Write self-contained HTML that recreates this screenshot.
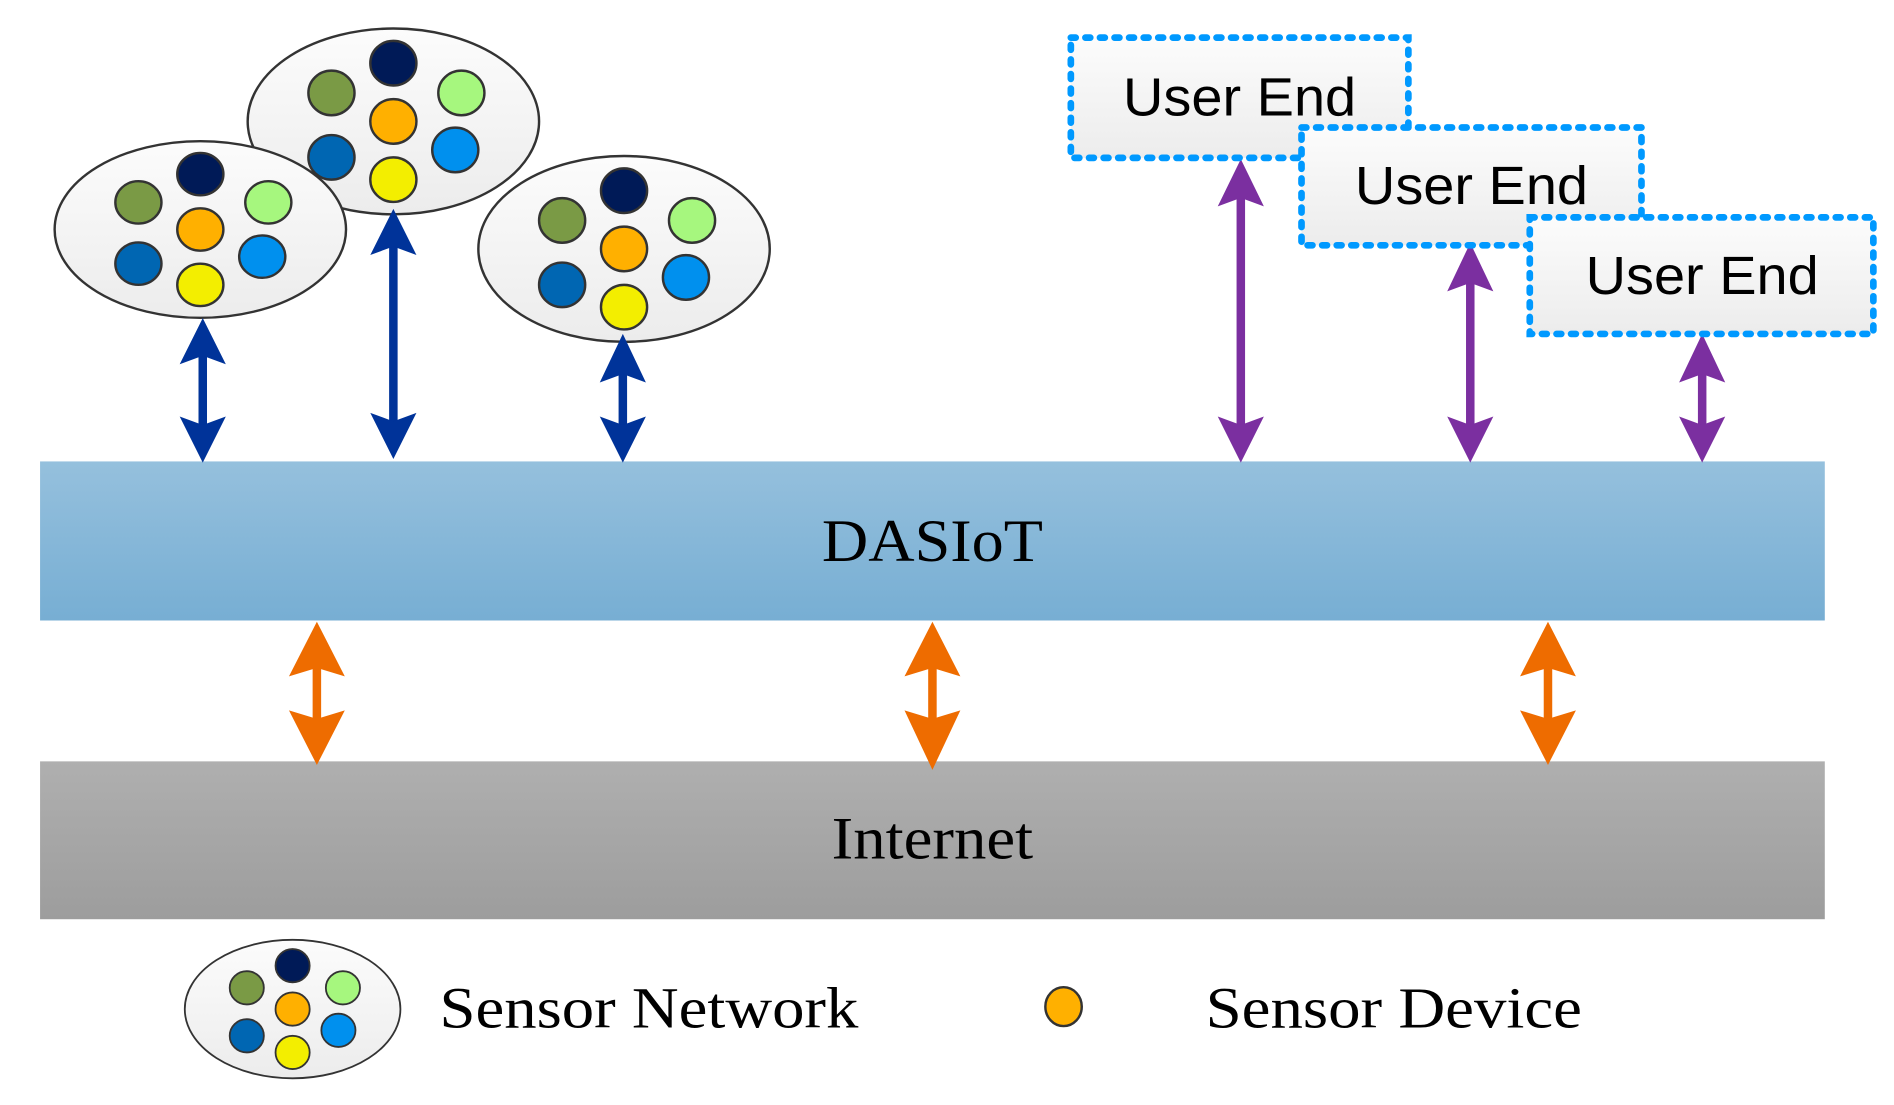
<!DOCTYPE html>
<html><head><meta charset="utf-8"><style>html,body{margin:0;padding:0;background:#fff}svg{display:block}</style></head>
<body>
<svg width="1894" height="1105" viewBox="0 0 1560 910" preserveAspectRatio="none" xmlns="http://www.w3.org/2000/svg">
<defs>
<linearGradient id="gb" x1="0" y1="0" x2="0" y2="1"><stop offset="0" stop-color="#95c0dd"/><stop offset="1" stop-color="#77aed3"/></linearGradient>
<linearGradient id="gg" x1="0" y1="0" x2="0" y2="1"><stop offset="0" stop-color="#afafaf"/><stop offset="1" stop-color="#9d9d9d"/></linearGradient>
<linearGradient id="gw" x1="0" y1="0" x2="0" y2="1"><stop offset="0" stop-color="#fcfcfc"/><stop offset="1" stop-color="#ececec"/></linearGradient>
<g id="net">
<ellipse cx="0" cy="0" rx="120" ry="75" fill="url(#gw)" stroke="#333" stroke-width="2"/>
<ellipse cx="0" cy="-47" rx="19" ry="18" fill="#001a57" stroke="#333" stroke-width="2"/>
<ellipse cx="-51" cy="-23" rx="19" ry="18" fill="#7a9a45" stroke="#333" stroke-width="2"/>
<ellipse cx="56" cy="-23" rx="19" ry="18" fill="#a6f77e" stroke="#333" stroke-width="2"/>
<ellipse cx="0" cy="0" rx="19" ry="18" fill="#ffb000" stroke="#333" stroke-width="2"/>
<ellipse cx="-51" cy="29" rx="19" ry="18" fill="#0066b2" stroke="#333" stroke-width="2"/>
<ellipse cx="51" cy="23" rx="19" ry="18" fill="#0090ee" stroke="#333" stroke-width="2"/>
<ellipse cx="0" cy="47" rx="19" ry="18" fill="#f3ee00" stroke="#333" stroke-width="2"/>
</g>
</defs>

<use href="#net" transform="translate(324,100) scale(1,1.02)"/>
<use href="#net" transform="translate(165,189) scale(1,0.97)"/>
<use href="#net" transform="translate(514,205) scale(1,1.02)"/>

<rect x="33" y="380" width="1470" height="131" fill="url(#gb)"/>
<text x="768" y="462" text-anchor="middle" font-family="Liberation Serif, serif" font-size="50" textLength="182" lengthAdjust="spacingAndGlyphs">DASIoT</text>
<rect x="33" y="627" width="1470" height="130" fill="url(#gg)"/>
<text x="768" y="707" text-anchor="middle" font-family="Liberation Serif, serif" font-size="50" textLength="166" lengthAdjust="spacingAndGlyphs">Internet</text>

<g fill="#003399" stroke="none">
<rect x="163.5" y="290" width="7" height="65"/><polygon points="167,262 186,300 167,293 148,300"/><polygon points="167,381 186,343 167,350 148,343"/>
<rect x="320.5" y="200" width="7" height="155"/><polygon points="324,172 343,210 324,203 305,210"/><polygon points="324,378 343,340 324,347 305,340"/>
<rect x="509.5" y="300" width="7" height="55"/><polygon points="513,275 532,315 513,308 494,315"/><polygon points="513,381 532,343 513,350 494,343"/>
</g>
<g fill="#7b2fa0">
<rect x="1018.5" y="160" width="7" height="195"/><polygon points="1022,131 1041,170 1022,163 1003,170"/><polygon points="1022,381 1041,343 1022,350 1003,343"/>
<rect x="1207.5" y="230" width="7" height="125"/><polygon points="1211,200 1230,240 1211,233 1192,240"/><polygon points="1211,381 1230,343 1211,350 1192,343"/>
<rect x="1398.5" y="300" width="7" height="55"/><polygon points="1402,275 1421,315 1402,308 1383,315"/><polygon points="1402,381 1421,343 1402,350 1383,343"/>
</g>
<g fill="#ee6c00">
<rect x="257.5" y="545" width="7" height="55"/><polygon points="261,512 284,557 261,550 238,557"/><polygon points="261,630 284,585 261,592 238,585"/>
<rect x="764.5" y="545" width="7" height="55"/><polygon points="768,512 791,557 768,550 745,557"/><polygon points="768,634 791,585 768,592 745,585"/>
<rect x="1271.5" y="545" width="7" height="55"/><polygon points="1275,512 1298,557 1275,550 1252,557"/><polygon points="1275,630 1298,585 1275,592 1252,585"/>
</g>

<g font-family="Liberation Sans, sans-serif" font-size="44" text-anchor="middle">
<rect x="882" y="31" width="278" height="99" fill="url(#gw)" stroke="#0099ff" stroke-width="5.5" stroke-dasharray="4 8" stroke-linecap="round"/>
<text x="1021" y="95" textLength="192" lengthAdjust="spacingAndGlyphs">User End</text>
<rect x="1072" y="105" width="280" height="97" fill="url(#gw)" stroke="#0099ff" stroke-width="5.5" stroke-dasharray="4 8" stroke-linecap="round"/>
<text x="1212" y="168" textLength="192" lengthAdjust="spacingAndGlyphs">User End</text>
<rect x="1260" y="179" width="283" height="96" fill="url(#gw)" stroke="#0099ff" stroke-width="5.5" stroke-dasharray="4 8" stroke-linecap="round"/>
<text x="1402" y="242" textLength="192" lengthAdjust="spacingAndGlyphs">User End</text>
</g>

<use href="#net" transform="translate(241,831) scale(0.74,0.76)"/>
<text x="362" y="846" font-family="Liberation Serif, serif" font-size="48" textLength="345" lengthAdjust="spacingAndGlyphs">Sensor Network</text>
<ellipse cx="876" cy="829" rx="15" ry="16" fill="#ffb000" stroke="#333" stroke-width="2"/>
<text x="993" y="846" font-family="Liberation Serif, serif" font-size="48" textLength="310" lengthAdjust="spacingAndGlyphs">Sensor Device</text>
</svg>
</body></html>
